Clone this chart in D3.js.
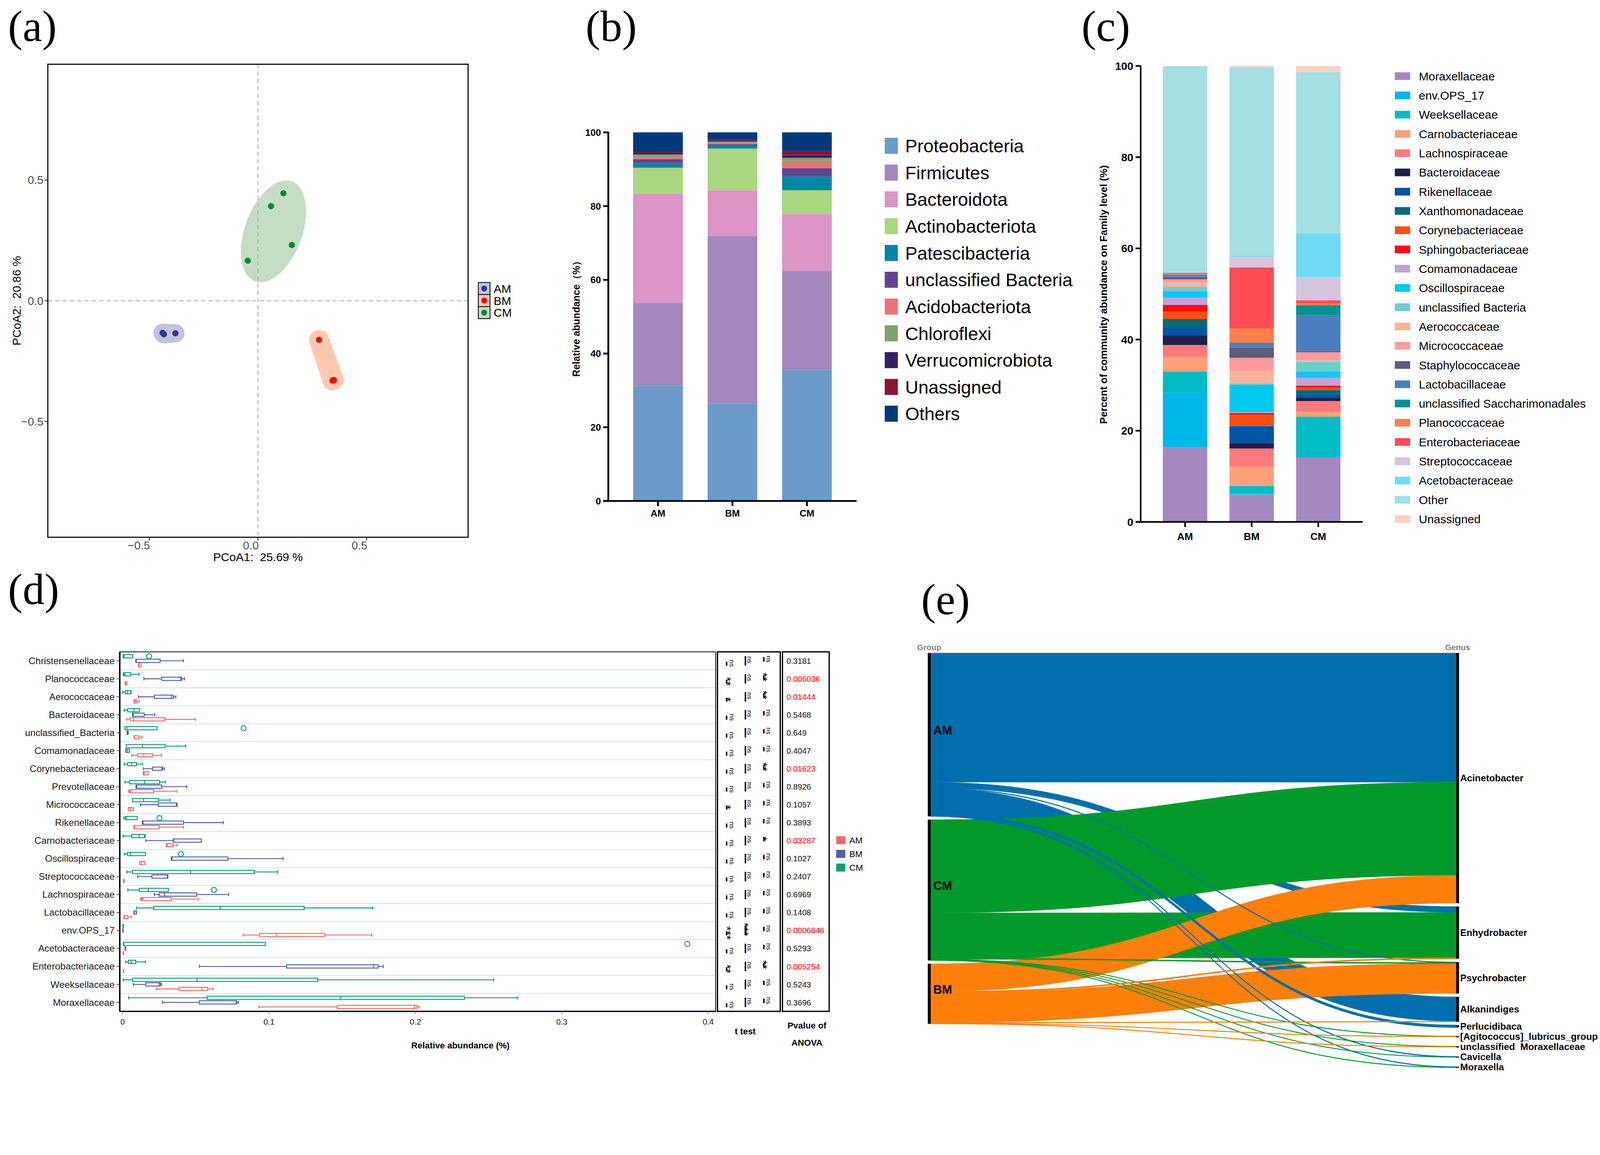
<!DOCTYPE html>
<html>
<head>
<meta charset="utf-8">
<script src="https://cdn.jsdelivr.net/npm/d3@7"></script>
<style>
html, body { margin: 0; padding: 0; background: #fff; overflow: hidden; }
svg { display: block; width: 100vw; height: 100vh; }
text { font-family: "Liberation Sans", Arial, sans-serif; }
.serif { font-family: "Liberation Serif", "Times New Roman", serif; }
</style>
</head>
<body>
<svg id="fig" viewBox="0 0 4382 2958" preserveAspectRatio="xMinYMin meet"></svg>
<script>
// ---------- (a) PCoA ----------
var pcoaGroups = ["AM", "BM", "CM"];
var pcoaSample = ["AM","AM","AM","BM","BM","BM","CM","CM","CM","CM"];
var pcoa1 = [-0.439, -0.433, -0.380, 0.281, 0.343, 0.349, -0.047, 0.060, 0.117, 0.156];
var pcoa2 = [-0.133, -0.139, -0.135, -0.162, -0.331, -0.329, 0.166, 0.392, 0.445, 0.231];
var pcoaTicks = [-0.5, 0, 0.5];
var pcoaPointColor = ["#2c3b8f", "#ff0000", "#008a3b"];
var pcoaFillColor = ["#8b84bd", "#ff9262", "#8dbb8a"];
var pcoaKeyColor = ["#c5c1de", "#ffc6ad", "#c6dcc4"];

// ---------- (b) phylum ----------
var groups = ["AM", "BM", "CM"];
var phyla = ["Proteobacteria","Firmicutes","Bacteroidota","Actinobacteriota","Patescibacteria",
  "unclassified Bacteria","Acidobacteriota","Chloroflexi","Verrucomicrobiota","Unassigned","Others"];
var phylaColors = ["#6a9bcb","#a389c0","#dc95c4","#a9d67f","#0086a8","#634490","#ee7275","#80a36b","#332366","#8d1439","#023a7c"];
var phylaAM = [31.2, 22.5, 29.7, 7.0, 1.3, 1.0, 0.6, 0.7, 0.5, 0.2, 5.3];
var phylaBM = [26.4, 45.5, 12.4, 11.3, 0.9, 0.3, 0.3, 0.4, 0.3, 0.3, 1.9];
var phylaCM = [35.4, 27.0, 15.5, 6.4, 3.8, 2.2, 2.0, 0.8, 0.7, 1.2, 5.0];
var pctTicks = [0, 20, 40, 60, 80, 100];

// ---------- (c) family ----------
var families = ["Moraxellaceae","env.OPS_17","Weeksellaceae","Carnobacteriaceae","Lachnospiraceae","Bacteroidaceae",
  "Rikenellaceae","Xanthomonadaceae","Corynebacteriaceae","Sphingobacteriaceae","Comamonadaceae","Oscillospiraceae",
  "unclassified Bacteria","Aerococcaceae","Micrococcaceae","Staphylococcaceae","Lactobacillaceae",
  "unclassified Saccharimonadales","Planococcaceae","Enterobacteriaceae","Streptococcaceae","Acetobacteraceae","Other","Unassigned"];
var familyColors = ["#a489c0","#00b7ea","#00bdc5","#fea07a","#ff7b7b","#201f4c","#0054a6","#006c75","#ff4f0a","#ff0a14",
  "#bfa3d3","#00cbee","#6ccdd2","#feb29a","#ff9b9f","#5e5c7b","#4a80bf","#00949a","#ff7f4d","#ff4c52","#d4c4de","#70daf4","#a4dfe1","#ffcfbe"];
var familyAM = [16.4, 11.9, 4.7, 3.2, 2.6, 2.1, 1.8, 1.8, 1.6, 1.5, 1.6, 1.4, 1.0, 0.9, 0.7, 0.5, 0.3, 0.2, 0.2, 0.2, 0.1, 0.1, 45.1, 0.1];
var familyBM = [6.0, 0.1, 1.8, 4.2, 4.0, 1.2, 3.7, 0.1, 2.4, 0.4, 0.2, 6.0, 0.3, 2.7, 2.9, 2.3, 0.9, 0.1, 3.1, 13.4, 2.4, 0.2, 41.3, 0.3];
var familyCM = [14.1, 0.1, 8.9, 1.0, 2.4, 0.7, 0.8, 0.9, 0.6, 0.4, 1.7, 1.4, 2.1, 0.4, 1.7, 0.2, 7.9, 2.2, 0.4, 0.7, 5.1, 9.6, 35.4, 1.3];

// ---------- (d) boxplots ----------
var boxFamilies = ["Christensenellaceae","Planococcaceae","Aerococcaceae","Bacteroidaceae","unclassified_Bacteria",
  "Comamonadaceae","Corynebacteriaceae","Prevotellaceae","Micrococcaceae","Rikenellaceae","Carnobacteriaceae",
  "Oscillospiraceae","Streptococcaceae","Lachnospiraceae","Lactobacillaceae","env.OPS_17","Acetobacteraceae",
  "Enterobacteriaceae","Weeksellaceae","Moraxellaceae"];
// [min, q1, median, q3, max]
var boxCM = [
  [0.0003,0.0003,0.0010,0.0069,0.0069],[0.0003,0.0008,0.0016,0.0053,0.0112],[0.0000,0.0018,0.0034,0.0056,0.0058],
  [0.0010,0.0034,0.0077,0.0113,0.0113],[0.0016,0.0016,0.0029,0.0235,0.0235],[0.0024,0.0024,0.0136,0.0289,0.0431],
  [0.0010,0.0034,0.0062,0.0094,0.0134],[0.0016,0.0046,0.0150,0.0252,0.0291],[0.0067,0.0067,0.0142,0.0244,0.0323],
  [0.0008,0.0018,0.0026,0.0099,0.0099],[0.0003,0.0062,0.0112,0.0149,0.0155],[0.0013,0.0032,0.0054,0.0155,0.0155],
  [0.0029,0.0067,0.0465,0.0899,0.1059],[0.0035,0.0113,0.0174,0.0312,0.0312],[0.0094,0.0212,0.0666,0.1240,0.1708],
  [0.0002,0.0002,0.0003,0.0004,0.0004],[0.0006,0.0006,0.0008,0.0974,0.0974],[0.0021,0.0038,0.0058,0.0089,0.0155],
  [0.0003,0.0067,0.0508,0.1332,0.2534],[0.0040,0.0577,0.1490,0.2335,0.2696]];
var boxBM = [
  [0.0090,0.0090,0.0093,0.0256,0.0415],[0.0145,0.0267,0.0396,0.0404,0.0422],[0.0109,0.0217,0.0332,0.0345,0.0363],
  [0.0067,0.0067,0.0073,0.0147,0.0219],[0.0030,0.0031,0.0034,0.0037,0.0038],[0.0021,0.0021,0.0030,0.0045,0.0045],
  [0.0142,0.0204,0.0268,0.0273,0.0286],[0.0091,0.0091,0.0096,0.0267,0.0438],[0.0121,0.0243,0.0367,0.0372,0.0372],
  [0.0134,0.0134,0.0139,0.0415,0.0687],[0.0157,0.0345,0.0347,0.0537,0.0537],[0.0332,0.0332,0.0337,0.0719,0.1096],
  [0.0102,0.0200,0.0305,0.0308,0.0308],[0.0216,0.0249,0.0286,0.0505,0.0724],[0.0077,0.0077,0.0080,0.0094,0.0094],
  [0.0001,0.0001,0.0002,0.0002,0.0002],[0.0016,0.0016,0.0018,0.0020,0.0020],[0.0524,0.1120,0.1714,0.1746,0.1780],
  [0.0073,0.0158,0.0248,0.0257,0.0265],[0.0273,0.0524,0.0775,0.0778,0.0791]];
var boxAM = [
  [0.0107,0.0107,0.0110,0.0125,0.0125],[0.0016,0.0016,0.0020,0.0029,0.0029],[0.0077,0.0077,0.0085,0.0095,0.0113],
  [0.0027,0.0051,0.0075,0.0288,0.0497],[0.0078,0.0078,0.0080,0.0110,0.0133],[0.0062,0.0102,0.0144,0.0204,0.0265],
  [0.0141,0.0141,0.0147,0.0174,0.0174],[0.0038,0.0048,0.0056,0.0212,0.0367],[0.0038,0.0038,0.0056,0.0072,0.0072],
  [0.0077,0.0077,0.0081,0.0249,0.0415],[0.0299,0.0299,0.0305,0.0340,0.0372],[0.0117,0.0117,0.0129,0.0152,0.0152],
  [0.0006,0.0006,0.0008,0.0010,0.0010],[0.0121,0.0129,0.0136,0.0331,0.0518],[0.0008,0.0008,0.0012,0.0035,0.0059],
  [0.0823,0.0936,0.1053,0.1380,0.1702],[0.0004,0.0004,0.0005,0.0006,0.0006],[0.0005,0.0005,0.0006,0.0007,0.0007],
  [0.0230,0.0385,0.0542,0.0580,0.0618],[0.0931,0.1465,0.1994,0.2010,0.2025]];
var outliersCM = [[0.018],[],[],[],[0.0826],[],[],[],[],[0.0251],[],[0.0398],[],[0.0623],[],[],[0.3857],[],[],[]];
var abundTicks = [0, 0.1, 0.2, 0.3, 0.4];
var anovaP = ["0.3181","0.006036","0.01444","0.5468","0.649","0.4047","0.01623","0.8926","0.1057","0.3893",
  "0.03287","0.1027","0.2407","0.6969","0.1408","0.0006646","0.5293","0.005254","0.5243","0.3696"];
var ttest1 = ["ns","**","*","ns","ns","ns","ns","ns","*","ns","ns","ns","ns","ns","ns","***","ns","**","ns","ns"];
var ttest2 = ["ns","ns","ns","ns","ns","ns","ns","ns","ns","ns","ns","ns","ns","ns","ns","***","ns","ns","ns","ns"];
var ttest3 = ["ns","**","**","ns","ns","ns","**","ns","ns","ns","*","ns","ns","ns","ns","ns","ns","**","ns","ns"];
var boxColors = {AM: "#f8666a", BM: "#4e5fa6", CM: "#06a074"};

// ---------- (e) alluvial ----------
var groupNodes = ["AM", "CM", "BM"];
var genusNodes = ["Acinetobacter","Enhydrobacter","Psychrobacter","Alkanindiges","Perlucidibaca",
  "[Agitococcus]_lubricus_group","unclassified  Moraxellaceae","Cavicella","Moraxella"];
var linkSource = ["AM","AM","AM","AM","AM","AM","AM","CM","CM","CM","CM","CM","CM","CM","BM","BM","BM","BM","BM","BM"];
var linkTarget = ["Acinetobacter","Enhydrobacter","Psychrobacter","Alkanindiges","Perlucidibaca","Cavicella","Moraxella",
  "Acinetobacter","Enhydrobacter","Psychrobacter","[Agitococcus]_lubricus_group","unclassified  Moraxellaceae","Cavicella","Moraxella",
  "Acinetobacter","Enhydrobacter","Psychrobacter","Alkanindiges","[Agitococcus]_lubricus_group","unclassified  Moraxellaceae"];
var linkValue = [39.5, 1.8, 0.15, 7.5, 0.7, 0.15, 0.15,
  28.5, 13.9, 0.25, 0.1, 0.1, 0.1, 0.1,
  8.5, 0.3, 9.2, 0.15, 0.1, 0.1];
var groupColors = {AM: "#006fad", CM: "#009a2b", BM: "#ff7f0b"};

var svg = d3.select("#fig");
svg.append("rect").attr("width", 4382).attr("height", 2958).attr("fill", "#fff");

// panel letters
[["(a)", 22, 112], ["(b)", 1604, 112], ["(c)", 2962, 112], ["(d)", 22, 1655], ["(e)", 2523, 1683]].forEach(function(p){
  svg.append("text").attr("class", "serif").attr("x", p[1]).attr("y", p[2])
    .attr("font-size", 120).text(p[0]);
});

// ================= (a) =================
(function(){
  var x = d3.scaleLinear().domain([-0.967, 0.967]).range([131, 1282]);
  var y = d3.scaleLinear().domain([-0.98, 0.98]).range([1472, 176]);
  var g = svg.append("g");

  g.append("line").attr("x1", x(0)).attr("x2", x(0)).attr("y1", y.range()[1]).attr("y2", y.range()[0])
    .attr("stroke", "#bdbdbd").attr("stroke-width", 3).attr("stroke-dasharray", "12,8");
  g.append("line").attr("y1", y(0)).attr("y2", y(0)).attr("x1", x.range()[0]).attr("x2", x.range()[1])
    .attr("stroke", "#bdbdbd").attr("stroke-width", 3).attr("stroke-dasharray", "12,8");

  var pts = pcoa1.map(function(v, i){ return {g: pcoaSample[i], px: x(v), py: y(pcoa2[i])}; });

  pcoaGroups.forEach(function(grp, gi){
    var gp = pts.filter(function(d){ return d.g === grp; });
    var shape = g.append("g").attr("opacity", 0.5);
    if (gp.length >= 4) {
      // covariance ellipse
      var mx = d3.mean(gp, function(d){ return d.px; }), my = d3.mean(gp, function(d){ return d.py; });
      var n = gp.length - 1;
      var sxx = d3.sum(gp, function(d){ return (d.px-mx)*(d.px-mx); })/n;
      var syy = d3.sum(gp, function(d){ return (d.py-my)*(d.py-my); })/n;
      var sxy = d3.sum(gp, function(d){ return (d.px-mx)*(d.py-my); })/n;
      var tr = sxx + syy, det = sxx*syy - sxy*sxy, disc = Math.sqrt(tr*tr/4 - det);
      var l1 = tr/2 + disc, l2 = tr/2 - disc;
      var ang = 0.5*Math.atan2(2*sxy, sxx - syy)*180/Math.PI;
      shape.append("ellipse").attr("transform", "translate(" + mx + "," + (my + 14) + ") rotate(" + ang + ")")
        .attr("rx", 1.6*Math.sqrt(l1)).attr("ry", 1.75*Math.sqrt(l2)).attr("fill", pcoaFillColor[gi]);
    } else {
      var hull = d3.polygonHull(gp.map(function(d){ return [d.px, d.py]; }));
      shape.append("path").attr("d", "M" + hull.join("L") + "Z")
        .attr("fill", pcoaFillColor[gi]).attr("stroke", pcoaFillColor[gi])
        .attr("stroke-width", gi === 0 ? 50 : 54).attr("stroke-linejoin", "round");
    }
  });

  g.selectAll(".pt").data(pts).enter().append("circle")
    .attr("cx", function(d){ return d.px; }).attr("cy", function(d){ return d.py; }).attr("r", 8.5)
    .attr("fill", function(d){ return pcoaPointColor[pcoaGroups.indexOf(d.g)]; });

  g.append("rect").attr("x", x.range()[0]).attr("y", y.range()[1])
    .attr("width", x.range()[1]-x.range()[0]).attr("height", y.range()[0]-y.range()[1])
    .attr("fill", "none").attr("stroke", "#000").attr("stroke-width", 3);

  pcoaTicks.forEach(function(t){
    g.append("line").attr("x1", x(t)).attr("x2", x(t)).attr("y1", 1472).attr("y2", 1481).attr("stroke", "#333").attr("stroke-width", 2.5);
    g.append("text").attr("x", x(t) + 2).attr("y", 1505).attr("text-anchor", "end")
      .attr("font-size", 31).attr("fill", "#4d4d4d").text(d3.format(".1f")(t));
    g.append("line").attr("x1", 122).attr("x2", 131).attr("y1", y(t)).attr("y2", y(t)).attr("stroke", "#333").attr("stroke-width", 2.5);
    g.append("text").attr("x", 119).attr("y", y(t) + 11).attr("text-anchor", "end")
      .attr("font-size", 31).attr("fill", "#4d4d4d").text(d3.format(".1f")(t));
  });

  g.append("text").attr("x", x(0)).attr("y", 1537).attr("text-anchor", "middle").attr("font-size", 32)
    .style("white-space", "pre").text("PCoA1:  25.69 %");
  g.append("text").attr("transform", "translate(57," + y(0) + ") rotate(-90)").attr("text-anchor", "middle")
    .attr("font-size", 32).style("white-space", "pre").text("PCoA2:  20.86 %");

  pcoaGroups.forEach(function(grp, i){
    var ky = 774 + i*33;
    g.append("rect").attr("x", 1310).attr("y", ky).attr("width", 32).attr("height", 33)
      .attr("fill", pcoaKeyColor[i]).attr("stroke", "#1a1a1a").attr("stroke-width", 2.5);
    g.append("circle").attr("cx", 1326).attr("cy", ky + 16.5).attr("r", 8).attr("fill", pcoaPointColor[i]);
    g.append("text").attr("x", 1352).attr("y", ky + 28).attr("font-size", 32).text(grp);
  });
})();

// helper for GraphPad-like stacked bars
function stackedPanel(opt){
  var g = svg.append("g");
  var x = d3.scaleBand().domain(groups).range([opt.x0, opt.x1]).paddingInner(0.333).paddingOuter(0.333);
  var y = d3.scaleLinear().domain([0, 100]).range([opt.y0, opt.y1]);
  var rows = groups.map(function(grp, gi){
    var r = {group: grp};
    opt.keys.forEach(function(k, ki){ r[k] = opt.values[gi][ki]; });
    return r;
  });
  var series = d3.stack().keys(opt.keys)(rows);
  g.selectAll(".s").data(series).enter().append("g")
    .attr("fill", function(d, i){ return opt.colors[i]; })
    .selectAll("rect").data(function(d){ return d; }).enter().append("rect")
    .attr("x", function(d){ return x(d.data.group); })
    .attr("y", function(d){ return y(d[1]); })
    .attr("width", x.bandwidth())
    .attr("height", function(d){ return y(d[0]) - y(d[1]); });

  var tl = opt.tick;
  g.append("line").attr("x1", opt.x0).attr("x2", opt.x0).attr("y1", y(0) + opt.lw/2).attr("y2", y(100) - 2)
    .attr("stroke", "#000").attr("stroke-width", opt.lw);
  g.append("line").attr("x1", opt.x0 - tl).attr("x2", opt.x1).attr("y1", y(0)).attr("y2", y(0))
    .attr("stroke", "#000").attr("stroke-width", opt.lw);
  pctTicks.forEach(function(t){
    g.append("line").attr("x1", opt.x0 - tl).attr("x2", opt.x0).attr("y1", y(t)).attr("y2", y(t))
      .attr("stroke", "#000").attr("stroke-width", opt.lw);
    g.append("text").attr("x", opt.x0 - tl - 6).attr("y", y(t) + opt.fs*0.36).attr("text-anchor", "end")
      .attr("font-size", opt.fs).attr("font-weight", "bold").text(t);
  });
  groups.forEach(function(grp){
    var cx = x(grp) + x.bandwidth()/2;
    g.append("line").attr("x1", cx).attr("x2", cx).attr("y1", y(0)).attr("y2", y(0) + tl)
      .attr("stroke", "#000").attr("stroke-width", opt.lw);
    g.append("text").attr("x", cx).attr("y", opt.labelY).attr("text-anchor", "middle")
      .attr("font-size", opt.xfs).attr("font-weight", "bold").text(grp);
  });
  g.append("text").attr("transform", "translate(" + opt.titleX + "," + opt.titleY + ") rotate(-90)")
    .attr("text-anchor", "middle").attr("font-size", opt.tfs).attr("font-weight", "bold").text(opt.title);

  opt.keys.forEach(function(k, i){
    var cy = opt.legY + i*opt.legStep;
    g.append("rect").attr("x", opt.legX).attr("y", cy - opt.legH/2).attr("width", opt.legW).attr("height", opt.legH)
      .attr("fill", opt.colors[i]);
    g.append("text").attr("x", opt.legTextX).attr("y", cy + opt.legFs*0.36).attr("font-size", opt.legFs).text(k);
  });
}

// ================= (b) =================
stackedPanel({
  keys: phyla, colors: phylaColors, values: [phylaAM, phylaBM, phylaCM],
  x0: 1666, x1: 2346, y0: 1372.6, y1: 362.7, lw: 5, tick: 14, fs: 26, xfs: 26, labelY: 1415,
  title: "Relative abundance（%）", titleX: 1588, titleY: 867, tfs: 27,
  legX: 2423, legW: 36, legH: 44, legY: 399.5, legStep: 73.4, legTextX: 2479, legFs: 50
});

// ================= (c) =================
stackedPanel({
  keys: families, colors: familyColors, values: [familyAM, familyBM, familyCM],
  x0: 3124, x1: 3732, y0: 1430, y1: 180.8, lw: 4.5, tick: 14, fs: 30, xfs: 28, labelY: 1480,
  title: "Percent of community abundance on Family level (%)", titleX: 3032, titleY: 807, tfs: 28,
  legX: 3820, legW: 42, legH: 21, legY: 208.6, legStep: 52.76, legTextX: 3886, legFs: 32
});

// ================= (d) =================
(function(){
  var g = svg.append("g");
  var x = d3.scaleLinear().domain([0, 0.4]).range([336, 1939.6]);
  var y = d3.scaleBand().domain(boxFamilies).range([1786, 2771]);
  var left = 328, right = 1960, top = 1786, bottom = 2771;
  var step = y.step();

  boxFamilies.forEach(function(f, i){
    if (i > 0) g.append("line").attr("x1", left).attr("x2", right).attr("y1", y(f)).attr("y2", y(f))
      .attr("stroke", "#dde3ee").attr("stroke-width", 2.5);
  });

  function drawBox(stats, color, cy){
    var h = 9;
    var bg = g.append("g").attr("stroke", color).attr("stroke-width", 2.5).attr("fill", "none");
    bg.append("line").attr("x1", x(stats[0])).attr("x2", x(stats[1])).attr("y1", cy).attr("y2", cy);
    bg.append("line").attr("x1", x(stats[3])).attr("x2", x(stats[4])).attr("y1", cy).attr("y2", cy);
    [stats[0], stats[4]].forEach(function(v){
      bg.append("line").attr("x1", x(v)).attr("x2", x(v)).attr("y1", cy - 4.5).attr("y2", cy + 4.5);
    });
    bg.append("rect").attr("x", x(stats[1])).attr("y", cy - h/2).attr("width", Math.max(x(stats[3]) - x(stats[1]), 1))
      .attr("height", h).attr("fill", "#fff");
    bg.append("line").attr("x1", x(stats[2])).attr("x2", x(stats[2])).attr("y1", cy - h/2).attr("y2", cy + h/2);
  }

  boxFamilies.forEach(function(f, i){
    var c = y(f) + step/2;
    drawBox(boxCM[i], boxColors.CM, c - 12.5);
    drawBox(boxBM[i], boxColors.BM, c);
    drawBox(boxAM[i], boxColors.AM, c + 12.5);
    outliersCM[i].forEach(function(v){
      g.append("circle").attr("cx", x(v)).attr("cy", c - 12.5).attr("r", 7)
        .attr("fill", "none").attr("stroke", boxColors.CM).attr("stroke-width", 2.5);
    });
    g.append("line").attr("x1", left - 9).attr("x2", left).attr("y1", c).attr("y2", c)
      .attr("stroke", "#555").attr("stroke-width", 2);
    g.append("text").attr("x", left - 14).attr("y", c + 9).attr("text-anchor", "end")
      .attr("font-size", 26).attr("fill", "#1a1a1a").text(f);
  });

  g.append("rect").attr("x", left).attr("y", top).attr("width", right - left).attr("height", bottom - top)
    .attr("fill", "none").attr("stroke", "#222").attr("stroke-width", 2.5);
  g.append("line").attr("x1", left).attr("x2", left).attr("y1", top).attr("y2", bottom).attr("stroke", "#000").attr("stroke-width", 4);
  g.append("line").attr("x1", left).attr("x2", right).attr("y1", bottom).attr("y2", bottom).attr("stroke", "#000").attr("stroke-width", 3.5);

  abundTicks.forEach(function(t){
    g.append("line").attr("x1", x(t)).attr("x2", x(t)).attr("y1", bottom).attr("y2", bottom + 8)
      .attr("stroke", "#888").attr("stroke-width", 2);
    g.append("text").attr("x", x(t)).attr("y", bottom + 36).attr("text-anchor", "middle")
      .attr("font-size", 22).attr("fill", "#222").text(t === 0 ? "0" : d3.format(".1f")(t));
  });
  g.append("text").attr("x", 1261).attr("y", 2872).attr("text-anchor", "middle").attr("font-size", 24)
    .attr("font-weight", "bold").text("Relative abundance (%)");

  // t test and ANOVA boxes
  g.append("rect").attr("x", 1965).attr("y", top).attr("width", 172).attr("height", bottom - top)
    .attr("fill", "none").attr("stroke", "#000").attr("stroke-width", 3.5);
  g.append("rect").attr("x", 2143).attr("y", top).attr("width", 128).attr("height", bottom - top)
    .attr("fill", "none").attr("stroke", "#000").attr("stroke-width", 3.5);

  var cols = [
    {sig: ttest1, bx: 1990, bh: 11, boff: 8, tx: 2005, toff: 7},
    {sig: ttest2, bx: 2041.5, bh: 26, boff: 0, tx: 2053, toff: -3},
    {sig: ttest3, bx: 2092, bh: 12, boff: -4, tx: 2105, toff: -5}
  ];
  boxFamilies.forEach(function(f, i){
    var c = y(f) + step/2;
    cols.forEach(function(col){
      g.append("line").attr("x1", col.bx).attr("x2", col.bx).attr("y1", c + col.boff - col.bh/2).attr("y2", c + col.boff + col.bh/2)
        .attr("stroke", "#000").attr("stroke-width", 4);
      var s = col.sig[i];
      var star = s !== "ns";
      g.append("text").attr("transform", "translate(" + (col.tx + (star ? -2 : 0)) + "," + (c + col.toff) + ") rotate(90)")
        .attr("text-anchor", "middle").attr("dy", star ? "0.72em" : "0.35em")
        .attr("font-size", star ? 32 : 18).text(s);
    });
    var p = anovaP[i];
    g.append("text").attr("x", 2154).attr("y", c + 8).attr("font-size", 22)
      .attr("fill", +p < 0.05 ? "#ff0000" : "#111").text(p);
  });
  g.append("text").attr("x", 2041).attr("y", 2834).attr("text-anchor", "middle").attr("font-size", 24)
    .attr("font-weight", "bold").text("t test");
  g.append("text").attr("x", 2210).attr("y", 2818).attr("text-anchor", "middle").attr("font-size", 24)
    .attr("font-weight", "bold").text("Pvalue of");
  g.append("text").attr("x", 2210).attr("y", 2865).attr("text-anchor", "middle").attr("font-size", 24)
    .attr("font-weight", "bold").text("ANOVA");

  ["AM", "BM", "CM"].forEach(function(grp, i){
    var cy = 2302 + i*37.5;
    g.append("rect").attr("x", 2290).attr("y", cy - 11).attr("width", 25).attr("height", 22).attr("fill", boxColors[grp]);
    g.append("text").attr("x", 2326).attr("y", cy + 8.5).attr("font-size", 24).text(grp);
  });
})();

// ================= (e) =================
(function(){
  var g = svg.append("g");
  var top = 1789, bottom = 2805, gap = 9, nodeW = 8, minLabelStep = 28;
  var leftX = 2541, rightX = 3988;
  var links = linkValue.map(function(v, i){ return {source: linkSource[i], target: linkTarget[i], value: v, index: i}; });

  var srcTotal = groupNodes.map(function(n){ return d3.sum(links.filter(function(l){ return l.source === n; }), function(l){ return l.value; }); });
  var tgtTotal = genusNodes.map(function(n){ return d3.sum(links.filter(function(l){ return l.target === n; }), function(l){ return l.value; }); });
  var h = d3.scaleLinear().domain([0, d3.sum(srcTotal)]).range([0, bottom - top - gap*(groupNodes.length - 1)]);

  var srcNodes = [], yy = top;
  groupNodes.forEach(function(n, i){
    srcNodes.push({name: n, y0: yy, y1: yy + h(srcTotal[i])});
    yy += h(srcTotal[i]) + gap;
  });
  var tgtNodes = [], prevC = null;
  yy = top;
  genusNodes.forEach(function(n, i){
    var hh = h(tgtTotal[i]);
    var y0 = yy;
    if (prevC !== null && y0 + hh/2 - prevC < minLabelStep) y0 = prevC + minLabelStep - hh/2;
    tgtNodes.push({name: n, y0: y0, y1: y0 + hh});
    prevC = y0 + hh/2;
    yy = y0 + hh + gap;
  });

  // link offsets (source sorted by target order, target sorted by source order)
  srcNodes.forEach(function(sn){
    var off = sn.y0;
    links.filter(function(l){ return l.source === sn.name; })
      .sort(function(a, b){ return genusNodes.indexOf(a.target) - genusNodes.indexOf(b.target); })
      .forEach(function(l){ l.sy0 = off; off += h(l.value); l.sy1 = off; });
  });
  tgtNodes.forEach(function(tn){
    var off = tn.y0;
    links.filter(function(l){ return l.target === tn.name; })
      .sort(function(a, b){ return groupNodes.indexOf(a.source) - groupNodes.indexOf(b.source); })
      .forEach(function(l){ l.ty0 = off; off += h(l.value); l.ty1 = off; });
  });

  var x0 = leftX + nodeW, x1 = rightX, xm = (x0 + x1)/2;
  function ribbon(l){
    return "M" + x0 + "," + l.sy0 + "C" + xm + "," + l.sy0 + " " + xm + "," + l.ty0 + " " + x1 + "," + l.ty0 +
      "L" + x1 + "," + l.ty1 + "C" + xm + "," + l.ty1 + " " + xm + "," + l.sy1 + " " + x0 + "," + l.sy1 + "Z";
  }
  var order = links.slice().sort(function(a, b){ return ((a.value < 1) - (b.value < 1)) || (a.index - b.index); });
  g.selectAll(".lk").data(order).enter().append("path")
    .attr("d", ribbon)
    .attr("fill", function(d){ return groupColors[d.source]; })
    .attr("stroke", function(d){ return groupColors[d.source]; })
    .attr("stroke-width", function(d){ return d.value < 1 ? 1.6 : 0.6; });

  srcNodes.forEach(function(n){
    g.append("rect").attr("x", leftX).attr("y", n.y0).attr("width", nodeW).attr("height", n.y1 - n.y0).attr("fill", "#000");
    g.append("text").attr("x", leftX + 15).attr("y", (n.y0 + n.y1)/2 - 12)
      .attr("dy", "0.35em").attr("font-size", 33).attr("font-weight", "bold").text(n.name);
  });
  tgtNodes.forEach(function(n){
    g.append("rect").attr("x", rightX).attr("y", n.y0).attr("width", nodeW).attr("height", Math.max(n.y1 - n.y0, 3)).attr("fill", "#000");
    g.append("text").attr("x", rightX + 11).attr("y", (n.y0 + n.y1)/2)
      .attr("dy", "0.35em").attr("font-size", 26).attr("font-weight", "bold").style("white-space", "pre").text(n.name);
  });
  g.append("text").attr("x", leftX + 4).attr("y", 1781).attr("text-anchor", "middle")
    .attr("font-size", 22).attr("font-weight", "bold").attr("fill", "#7f7f7f").text("Group");
  g.append("text").attr("x", rightX + 4).attr("y", 1781).attr("text-anchor", "middle")
    .attr("font-size", 22).attr("font-weight", "bold").attr("fill", "#7f7f7f").text("Genus");
})();
</script>
</body>
</html>
